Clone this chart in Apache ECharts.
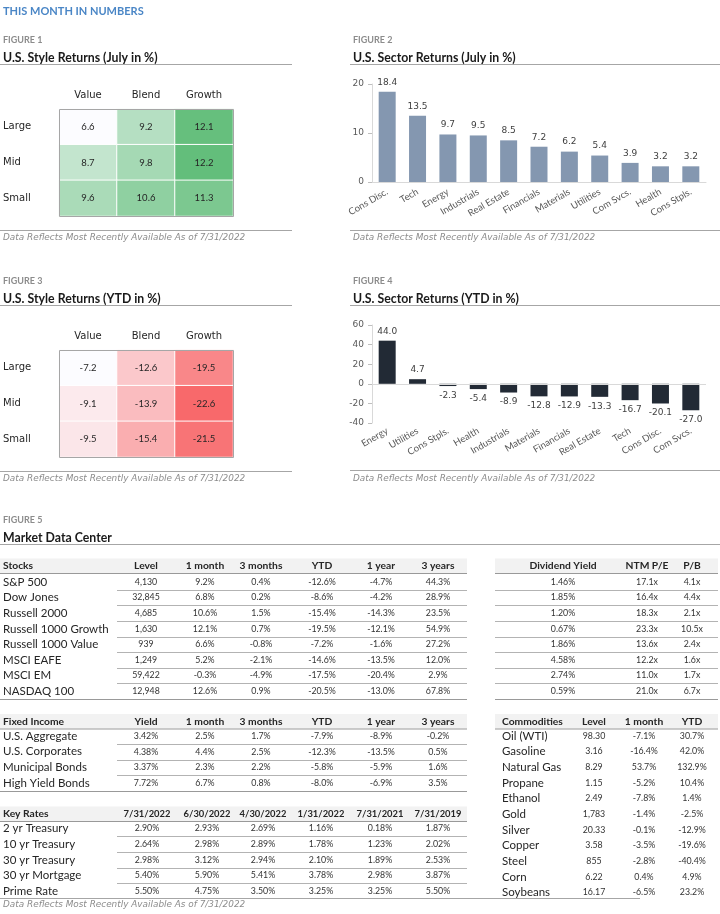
<!DOCTYPE html>
<html><head><meta charset="utf-8">
<script src="https://cdn.jsdelivr.net/npm/echarts@6/dist/echarts.min.js"></script>
<style>html,body{margin:0;padding:0;background:#fff}#c{width:720px;height:914px}</style>
</head><body><div id="c"></div>
<script>
// ---------- DATA ----------
const styleCols = ['Value', 'Blend', 'Growth'];
const styleRows = ['Large', 'Mid', 'Small'];
const julyLarge = [6.6, 9.2, 12.1];
const julyMid = [8.7, 9.8, 12.2];
const julySmall = [9.6, 10.6, 11.3];
const ytdLarge = [-7.2, -12.6, -19.5];
const ytdMid = [-9.1, -13.9, -22.6];
const ytdSmall = [-9.5, -15.4, -21.5];

const sectorJulyNames = ['Cons Disc.', 'Tech', 'Energy', 'Industrials', 'Real Estate', 'Financials', 'Materials', 'Utilities', 'Com Svcs.', 'Health', 'Cons Stpls.'];
const sectorJulyVals = [18.4, 13.5, 9.7, 9.5, 8.5, 7.2, 6.2, 5.4, 3.9, 3.2, 3.2];
const sectorYtdNames = ['Energy', 'Utilities', 'Cons Stpls.', 'Health', 'Industrials', 'Materials', 'Financials', 'Real Estate', 'Tech', 'Cons Disc.', 'Com Svcs.'];
const sectorYtdVals = [44.0, 4.7, -2.3, -5.4, -8.9, -12.8, -12.9, -13.3, -16.7, -20.1, -27.0];
const julyTicks = [0, 10, 20];
const ytdTicks = [-40, -20, 0, 20, 40, 60];

const stockHeaders = ['Level', '1 month', '3 months', 'YTD', '1 year', '3 years'];
const stockNames = ['S&P 500', 'Dow Jones', 'Russell 2000', 'Russell 1000 Growth', 'Russell 1000 Value', 'MSCI EAFE', 'MSCI EM', 'NASDAQ 100'];
const stockLevel = ['4,130', '32,845', '4,685', '1,630', '939', '1,249', '59,422', '12,948'];
const stock1m = ['9.2%', '6.8%', '10.6%', '12.1%', '6.6%', '5.2%', '-0.3%', '12.6%'];
const stock3m = ['0.4%', '0.2%', '1.5%', '0.7%', '-0.8%', '-2.1%', '-4.9%', '0.9%'];
const stockYtd = ['-12.6%', '-8.6%', '-15.4%', '-19.5%', '-7.2%', '-14.6%', '-17.5%', '-20.5%'];
const stock1y = ['-4.7%', '-4.2%', '-14.3%', '-12.1%', '-1.6%', '-13.5%', '-20.4%', '-13.0%'];
const stock3y = ['44.3%', '28.9%', '23.5%', '54.9%', '27.2%', '12.0%', '2.9%', '67.8%'];

const valHeaders = ['Dividend Yield', 'NTM P/E', 'P/B'];
const divYield = ['1.46%', '1.85%', '1.20%', '0.67%', '1.86%', '4.58%', '2.74%', '0.59%'];
const ntmPE = ['17.1x', '16.4x', '18.3x', '23.3x', '13.6x', '12.2x', '11.0x', '21.0x'];
const pbRatio = ['4.1x', '4.4x', '2.1x', '10.5x', '2.4x', '1.6x', '1.7x', '6.7x'];

const fiHeaders = ['Yield', '1 month', '3 months', 'YTD', '1 year', '3 years'];
const fiNames = ['U.S. Aggregate', 'U.S. Corporates', 'Municipal Bonds', 'High Yield Bonds'];
const fiYield = ['3.42%', '4.38%', '3.37%', '7.72%'];
const fi1m = ['2.5%', '4.4%', '2.3%', '6.7%'];
const fi3m = ['1.7%', '2.5%', '2.2%', '0.8%'];
const fiYtd = ['-7.9%', '-12.3%', '-5.8%', '-8.0%'];
const fi1y = ['-8.9%', '-13.5%', '-5.9%', '-6.9%'];
const fi3y = ['-0.2%', '0.5%', '1.6%', '3.5%'];

const rateHeaders = ['7/31/2022', '6/30/2022', '4/30/2022', '1/31/2022', '7/31/2021', '7/31/2019'];
const rateNames = ['2 yr Treasury', '10 yr Treasury', '30 yr Treasury', '30 yr Mortgage', 'Prime Rate'];
const rate20220731 = ['2.90%', '2.64%', '2.98%', '5.40%', '5.50%'];
const rate20220630 = ['2.93%', '2.98%', '3.12%', '5.90%', '4.75%'];
const rate20220430 = ['2.69%', '2.89%', '2.94%', '5.41%', '3.50%'];
const rate20220131 = ['1.16%', '1.78%', '2.10%', '3.78%', '3.25%'];
const rate20210731 = ['0.18%', '1.23%', '1.89%', '2.98%', '3.25%'];
const rate20190731 = ['1.87%', '2.02%', '2.53%', '3.87%', '5.50%'];

const comHeaders = ['Level', '1 month', 'YTD'];
const comNames = ['Oil (WTI)', 'Gasoline', 'Natural Gas', 'Propane', 'Ethanol', 'Gold', 'Silver', 'Copper', 'Steel', 'Corn', 'Soybeans'];
const comLevel = ['98.30', '3.16', '8.29', '1.15', '2.49', '1,783', '20.33', '3.58', '855', '6.22', '16.17'];
const com1m = ['-7.1%', '-16.4%', '53.7%', '-5.2%', '-7.8%', '-1.4%', '-0.1%', '-3.5%', '-2.8%', '0.4%', '-6.5%'];
const comYtd = ['30.7%', '42.0%', '132.9%', '10.4%', '1.4%', '-2.5%', '-12.9%', '-19.6%', '-40.4%', '4.9%', '23.2%'];

const footnote = 'Data Reflects Most Recently Available As of 7/31/2022';

// ---------- RENDER ----------
const FONT = 'Lato, "Open Sans", sans-serif';
const WIDE = '"DejaVu Sans", Lato, sans-serif';
const TXT = '#262626';
const RULE = '#a6a6a6';
const g = [];
function T(x, y, s, o) {
  o = o || {};
  const al = o.align || 'left';
  g.push({ type: 'text', z: 20, silent: true, style: {
    text: s, x: x, y: y, fill: o.color || TXT, fontSize: o.size || 9, fontFamily: o.family || FONT,
    fontWeight: o.weight || 'normal', fontStyle: o.style || 'normal',
    align: al, textAlign: al, verticalAlign: 'middle', textVerticalAlign: 'middle' } });
}
function L(x1, y1, x2, y2, c) {
  g.push({ type: 'line', z: 15, silent: true, shape: { x1: x1, y1: y1, x2: x2, y2: y2 }, style: { stroke: c || RULE, lineWidth: 1 } });
}
function R(x, y, w, h, fill) {
  g.push({ type: 'rect', z: 1, silent: true, shape: { x: x, y: y, width: w, height: h }, style: { fill: fill } });
}

// page header + figure headings
T(3, 11, 'THIS MONTH IN NUMBERS', { size: 11, weight: 'bold', color: '#4a86c6' });
function heading(x, y, fig, title, lx1, lx2) {
  T(x, y, fig, { size: 9, weight: 'bold', color: '#8c8c8c' });
  T(x, y + 17.5, title, { size: 12.3, weight: 'bold', color: '#1a1a1a' });
  L(lx1, y + 24, lx2, y + 24);
}
heading(3, 40.5, 'FIGURE 1', 'U.S. Style Returns (July in %)', 0, 292);
heading(353, 40.5, 'FIGURE 2', 'U.S. Sector Returns (July in %)', 350, 720);
heading(3, 281.5, 'FIGURE 3', 'U.S. Style Returns (YTD in %)', 0, 292);
heading(353, 281.5, 'FIGURE 4', 'U.S. Sector Returns (YTD in %)', 350, 720);
heading(3, 520.5, 'FIGURE 5', 'Market Data Center', 0, 720);
function foot(x, y, lx1, lx2, ly) {
  if (lx2) L(lx1, ly, lx2, ly);
  T(x, y, footnote, { size: 8.9, style: 'italic', color: '#8c8c8c', family: WIDE });
}
foot(3, 237.5, 0, 292, 230.5);
foot(353, 237.5, 350, 720, 230.5);
foot(3, 479, 0, 292, 471.5);
foot(353, 478.5, 350, 720, 470.5);
foot(3, 904.5, 0, 640, 898.5);

// heatmap borders
g.push({ type: 'rect', z: 30, silent: true, shape: { x: 59.5, y: 109.5, width: 174, height: 107 }, style: { fill: 'none', stroke: RULE, lineWidth: 1 } });
g.push({ type: 'rect', z: 30, silent: true, shape: { x: 59.5, y: 350.5, width: 174, height: 107 }, style: { fill: 'none', stroke: RULE, lineWidth: 1 } });

// tables
function table(c) {
  const hs = c.headSize || 10.3;
  R(c.x1, c.hy - 7.5, c.x2 - c.x1, 14.5, '#f2f2f2');
  if (c.title) T(c.labelX, c.hy, c.title, { size: 10.3, weight: 'bold' });
  c.headers.forEach((h, j) => T(c.cols[j], c.hy, h, { size: hs, weight: 'bold', align: 'center' }));
  L(c.x1, c.hy + 7.5, c.x2, c.hy + 7.5, '#999999');
  const n = c.columns[0].length;
  for (let i = 0; i < n; i++) {
    const y = c.ry0 + i * c.step;
    if (c.names) T(c.labelX, y, c.names[i], { size: 11.5, color: '#262626' });
    c.columns.forEach((col, j) => T(c.cols[j], y, col[i], { size: 8.8, align: 'center', color: '#333333' }));
    if (c.sepX !== undefined && i < n - 1) L(c.sepX, Math.round(y + c.step / 2) + 0.5, c.x2, Math.round(y + c.step / 2) + 0.5, '#b3b3b3');
  }
  if (c.bottomX !== undefined) {
    const by = Math.round(c.ry0 + (n - 1) * c.step + c.step / 2) + 0.5;
    L(c.bottomX, by, c.x2, by, '#999999');
  }
}
const sixCols = [146, 205, 261, 322, 381, 438];
table({ x1: 0, x2: 467, hy: 566, ry0: 582, step: 15.6, labelX: 3, title: 'Stocks', headers: stockHeaders, cols: sixCols,
  names: stockNames, columns: [stockLevel, stock1m, stock3m, stockYtd, stock1y, stock3y], sepX: 117, bottomX: 0 });
table({ x1: 495, x2: 718, hy: 566, ry0: 582, step: 15.6, headers: valHeaders, cols: [563, 647, 692],
  columns: [divYield, ntmPE, pbRatio], sepX: 495, bottomX: 495 });
table({ x1: 0, x2: 467, hy: 721.5, ry0: 736, step: 15.7, labelX: 3, title: 'Fixed Income', headers: fiHeaders, cols: sixCols,
  names: fiNames, columns: [fiYield, fi1m, fi3m, fiYtd, fi1y, fi3y], sepX: 117, bottomX: 0 });
table({ x1: 0, x2: 467, hy: 814, ry0: 828.5, step: 15.7, labelX: 3, title: 'Key Rates', headers: rateHeaders, cols: [147, 207, 263, 321, 380, 438],
  headSize: 9.4, names: rateNames, columns: [rate20220731, rate20220630, rate20220430, rate20220131, rate20210731, rate20190731], sepX: 117 });
table({ x1: 495, x2: 718, hy: 721.5, ry0: 736, step: 15.66, labelX: 502, title: 'Commodities', headers: comHeaders, cols: [594, 644, 692],
  names: comNames, columns: [comLevel, com1m, comYtd] });

// ---------- CHART OPTION ----------
function heatData(rows) {
  const d = [];
  rows.forEach((r, yi) => r.forEach((v, xi) => d.push([xi, yi, v])));
  return d;
}
function heatX(gi) {
  return { type: 'category', gridIndex: gi, data: styleCols, position: 'top', axisLine: { show: false }, axisTick: { show: false },
    axisLabel: { margin: 9, fontSize: 10, color: TXT, fontFamily: WIDE }, splitLine: { show: false } };
}
function heatY(gi) {
  return { type: 'category', gridIndex: gi, data: styleRows, inverse: true, axisLine: { show: false }, axisTick: { show: false },
    axisLabel: { margin: 56, align: 'left', fontSize: 10, color: TXT, fontFamily: WIDE }, splitLine: { show: false } };
}
const heatSeries = (xi, data) => ({ type: 'heatmap', xAxisIndex: xi, yAxisIndex: xi, data: data,
  label: { show: true, fontSize: 9.5, color: '#262626', fontFamily: FONT },
  itemStyle: { borderColor: '#ffffff', borderWidth: 1 }, emphasis: { disabled: true } });
function barX(gi, names, onZero) {
  return { type: 'category', gridIndex: gi, data: names,
    axisLine: { show: !onZero, onZero: false, lineStyle: { color: '#d9d9d9' } }, axisTick: { show: false },
    axisLabel: { rotate: 30, interval: 0, fontSize: 9.5, color: '#595959', fontFamily: FONT, margin: onZero ? 7 : 9 } };
}
function barY(gi, ticks) {
  return { type: 'value', gridIndex: gi, min: ticks[0], max: ticks[ticks.length - 1], interval: ticks[1] - ticks[0],
    axisLine: { show: true, lineStyle: { color: '#d9d9d9' } }, axisTick: { show: true, length: 4, lineStyle: { color: '#bfbfbf' } },
    splitLine: { show: false }, axisLabel: { fontSize: 9, color: '#595959', fontFamily: WIDE, margin: 8 } };
}

const option = {
  animation: false,
  textStyle: { fontFamily: FONT },
  grid: [
    { left: 59, top: 109, width: 174, height: 107 },
    { left: 372, top: 84, width: 334, height: 98 },
    { left: 59, top: 350, width: 174, height: 107 },
    { left: 372, top: 325, width: 334, height: 98 }
  ],
  xAxis: [heatX(0), barX(1, sectorJulyNames, false), heatX(2), barX(3, sectorYtdNames, true)],
  yAxis: [heatY(0), barY(1, julyTicks), heatY(2), barY(3, ytdTicks)],
  visualMap: [
    { type: 'continuous', show: false, seriesIndex: 0, min: Math.min(...julyLarge, ...julyMid, ...julySmall), max: Math.max(...julyLarge, ...julyMid, ...julySmall), inRange: { color: ['#FCFCFF', '#63BE7B'] } },
    { type: 'continuous', show: false, seriesIndex: 2, min: Math.min(...ytdLarge, ...ytdMid, ...ytdSmall), max: Math.max(...ytdLarge, ...ytdMid, ...ytdSmall), inRange: { color: ['#F8696B', '#FCFCFF'] } }
  ],
  series: [
    heatSeries(0, heatData([julyLarge, julyMid, julySmall])),
    { type: 'bar', xAxisIndex: 1, yAxisIndex: 1, data: sectorJulyVals, barWidth: 17,
      itemStyle: { color: '#8497B0' },
      label: { show: true, position: 'top', distance: 5, fontSize: 9, color: '#404040', fontFamily: WIDE, formatter: p => p.value.toFixed(1) } },
    heatSeries(2, heatData([ytdLarge, ytdMid, ytdSmall])),
    { type: 'bar', xAxisIndex: 3, yAxisIndex: 3, barWidth: 17,
      data: sectorYtdVals.map(v => ({ value: v, label: { position: v < 0 ? 'bottom' : 'top' } })),
      itemStyle: { color: '#222A35' },
      label: { show: true, distance: 5, fontSize: 9, color: '#404040', fontFamily: WIDE, formatter: p => p.value.toFixed(1) },
      markLine: { silent: true, symbol: 'none', label: { show: false }, lineStyle: { color: '#d9d9d9', type: 'solid', width: 1 }, data: [{ yAxis: 0 }] } }
  ],
  graphic: { elements: g }
};
const chart = echarts.init(document.getElementById('c'), null, { renderer: 'canvas' });
chart.setOption(option);
</script></body></html>
